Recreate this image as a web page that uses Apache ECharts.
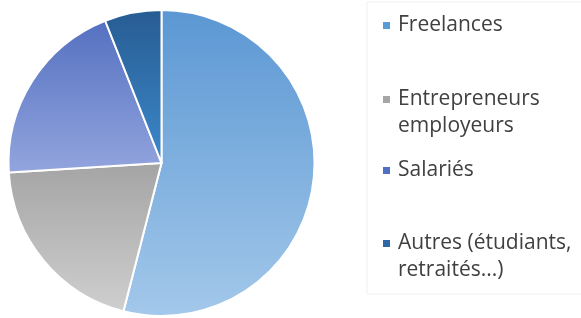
<!DOCTYPE html>
<html><head><meta charset="utf-8">
<script src="https://cdn.jsdelivr.net/npm/echarts@6/dist/echarts.min.js"></script>
<style>html,body{margin:0;padding:0;background:#fff}#c{width:581px;height:318px}</style>
</head><body><div id="c"></div>
<script>
var categories = ["Freelances", "Entrepreneurs employeurs", "Salariés", "Autres (étudiants, retraités...)"];
var legendLabels = ["Freelances", "Entrepreneurs\nemployeurs", "Salariés", "Autres (étudiants,\nretraités...)"];
var values = [54, 20, 20, 6];
var topColors = ["#5b97d3", "#a4a4a4", "#5470c0", "#275c92"];
var bottomColors = ["#a3c8ea", "#cfcfcf", "#93a5de", "#3c88cb"];
var markerColors = ["#5b9bd5", "#a5a5a5", "#4f6fc5", "#2d67a5"];

var chart = echarts.init(document.getElementById('c'), null, {renderer: 'canvas'});
var data = categories.map(function (n, i) {
  return {
    name: n, value: values[i],
    itemStyle: {
      color: {type: 'linear', x: 0, y: 0, x2: 0, y2: 1,
        colorStops: [{offset: 0, color: topColors[i]}, {offset: 1, color: bottomColors[i]}]}
    }
  };
});
var legendTops = [12, 59, 157, 203];
var lh = 27;
var legends = categories.map(function (n, i) {
  var multi = legendLabels[i].indexOf('\n') >= 0;
  return {
    data: [{name: n, itemStyle: {color: markerColors[i]}}],
    left: 381, top: legendTops[i], orient: 'vertical', padding: 0,
    icon: 'rect', itemWidth: 9, itemHeight: 9,
    selectedMode: false,
    formatter: function () { return (multi ? '\n' : '') + legendLabels[i]; },
    textStyle: {fontFamily: 'Open Sans', fontSize: 21, color: '#404040', lineHeight: lh,
      padding: [0, 0, 0, 2]}
  };
});
chart.setOption({
  animation: false,
  graphic: [{type: 'rect', shape: {x: 367, y: 2, width: 230, height: 292},
    style: {fill: 'none', stroke: '#f0f0f0', lineWidth: 1}}],
  legend: legends,
  series: [{
    type: 'pie', center: [161.5, 163], radius: 153, startAngle: 90, clockwise: true,
    label: {show: false}, labelLine: {show: false},
    itemStyle: {borderColor: '#ffffff', borderWidth: 2},
    emphasis: {disabled: true},
    data: data
  }]
});
</script></body></html>
